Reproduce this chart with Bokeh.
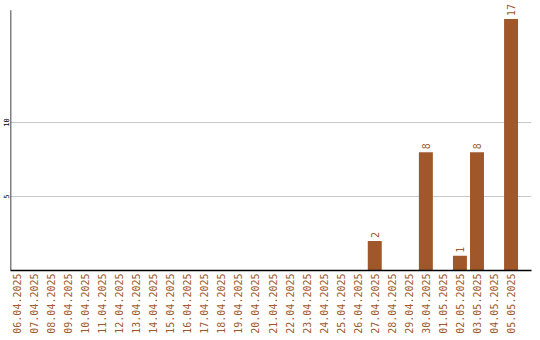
import math
from bokeh.plotting import figure
from bokeh.models import ColumnDataSource, FixedTicker, Range1d
from bokeh.core.properties import value
from bokeh.embed import file_html
from bokeh.resources import INLINE

dates = ["06.04.2025", "07.04.2025", "08.04.2025", "09.04.2025", "10.04.2025",
         "11.04.2025", "12.04.2025", "13.04.2025", "14.04.2025", "15.04.2025",
         "16.04.2025", "17.04.2025", "18.04.2025", "19.04.2025", "20.04.2025",
         "21.04.2025", "22.04.2025", "23.04.2025", "24.04.2025", "25.04.2025",
         "26.04.2025", "27.04.2025", "28.04.2025", "29.04.2025", "30.04.2025",
         "01.05.2025", "02.05.2025", "03.05.2025", "04.05.2025", "05.05.2025"]
counts = [0, 0, 0, 0, 0, 0, 0, 0, 0, 0,
          0, 0, 0, 0, 0, 0, 0, 0, 0, 0,
          0, 2, 0, 0, 8, 0, 1, 8, 0, 17]
y_ticks = [5, 10]

BROWN = "#a0572a"
FONT = "DejaVu Sans Mono"

idx = list(range(len(dates)))
X0, X1 = -0.38, 30.2
Y_AXIS_TOP = 17.6   # the drawn left axis ends here
x_range = Range1d(X0, X1)
y_range = Range1d(0, 18.05)  # headroom so the tallest value label is not clipped

src = ColumnDataSource(dict(x=idx, y=counts))
nz = [i for i, c in enumerate(counts) if c > 0]
lab = ColumnDataSource(dict(x=[idx[i] for i in nz], y=[counts[i] for i in nz],
                            lbl=[str(counts[i]) for i in nz]))

p = figure(width=540, frame_height=267, output_backend="svg", toolbar_location=None,
           x_range=x_range, y_range=y_range,
           min_border_left=0, min_border_right=9, min_border_top=3, min_border_bottom=0)
p.outline_line_color = None
p.background_fill_color = "white"
p.border_fill_color = "white"

p.vbar(x="x", top="y", width=0.82, source=src, fill_color=BROWN, line_color=None)

# value labels above the bars, reading upward
p.text(x="x", y="y", text="lbl", source=lab, angle=math.pi / 2,
       text_align="left", text_baseline="middle", y_offset=-3,
       text_font=value(FONT), text_font_size="10px", text_color=BROWN)

p.xgrid.visible = False
p.ygrid.ticker = FixedTicker(ticks=y_ticks)
p.ygrid.grid_line_color = "#c8c8c8"

xa = p.xaxis[0]
xa.ticker = FixedTicker(ticks=idx)
xa.major_label_overrides = {i: d for i, d in enumerate(dates)}
xa.major_label_orientation = math.pi / 2
xa.major_label_text_font = FONT
xa.major_label_text_font_size = "10px"
xa.major_label_text_color = BROWN
xa.major_tick_out = 0
xa.major_tick_in = 0
xa.minor_tick_out = 0
xa.minor_tick_in = 0
xa.major_label_standoff = 3
xa.axis_line_color = "black"
xa.axis_line_width = 1.5

ya = p.yaxis[0]
ya.ticker = FixedTicker(ticks=y_ticks)
ya.major_label_orientation = "vertical"
ya.major_label_text_font = FONT
ya.major_label_text_font_size = "7px"
ya.major_label_text_color = "black"
ya.major_tick_out = 0
ya.major_tick_in = 0
ya.minor_tick_out = 0
ya.minor_tick_in = 0
ya.major_label_standoff = 1
ya.axis_line_color = None

# left axis line, stopping at the top of the value scale
p.segment(x0=[X0], y0=[0], x1=[X0], y1=[Y_AXIS_TOP], line_color="black", line_width=1.5)

open("out.html", "w").write(file_html(p, INLINE))
